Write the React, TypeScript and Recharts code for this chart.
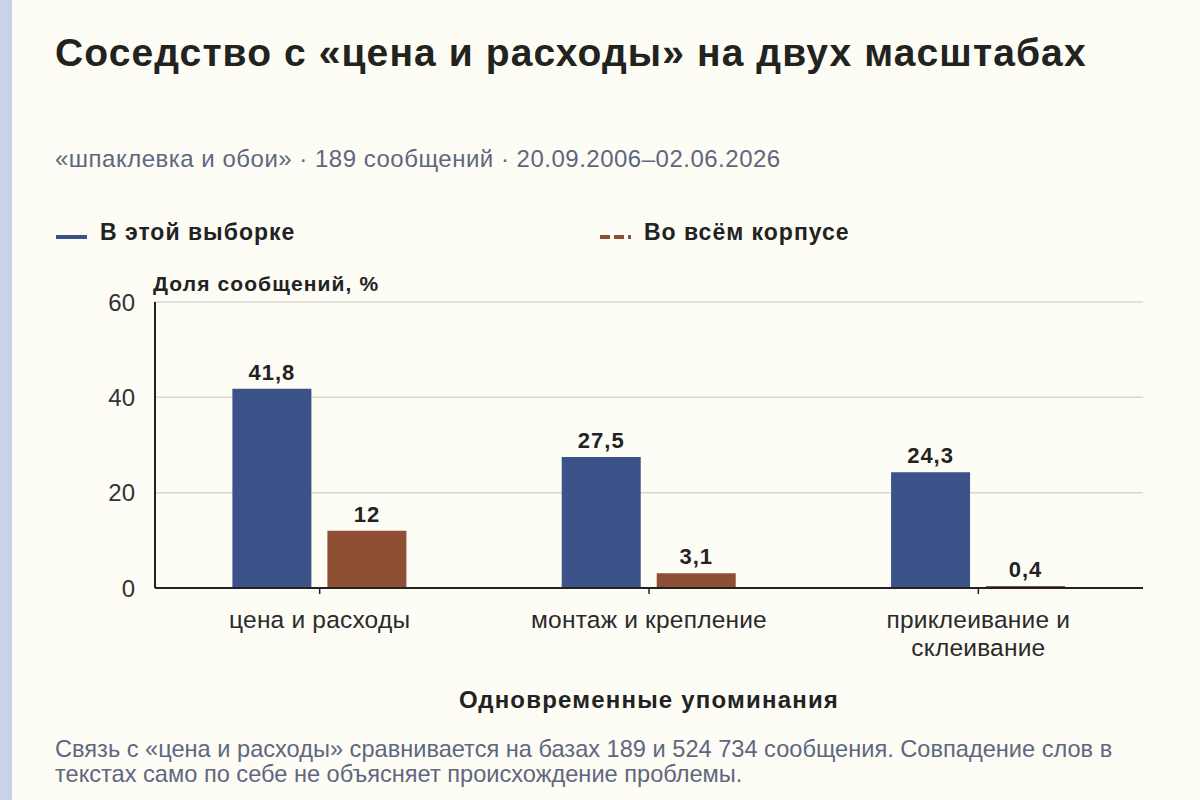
import React from 'react';
import { BarChart, Bar, XAxis, YAxis, CartesianGrid, LabelList } from 'recharts';

const categories = ['цена и расходы', 'монтаж и крепление', 'приклеивание и\nсклеивание'];
const sampleShare = [41.8, 27.5, 24.3];
const corpusShare = [12, 3.1, 0.4];
const yTicks = [0, 20, 40, 60];

const BLUE = '#3B5388';
const BROWN = '#8F4F35';
const MUTED = '#5F6780';
const FONT = '"Liberation Sans", Arial, Helvetica, sans-serif';

const data = categories.map((name, i) => ({ name, sample: sampleShare[i], corpus: corpusShare[i] }));

const fmt = (v: number) => String(v).replace('.', ',');

// wrapped category labels (explicit line breaks)
function CategoryTick(props: any) {
  const { x, y, payload } = props;
  const lines = String(payload.value).split('\n');
  return (
    <text x={x} y={y + 32} textAnchor="middle" fill="#2a2a2a" fontSize={24.5} letterSpacing={0.2} fontFamily={FONT}>
      {lines.map((l, i) => (
        <tspan key={i} x={x} dy={i === 0 ? 0 : 28}>{l}</tspan>
      ))}
    </text>
  );
}

function LegendItem({ left, color, dashed, label }: { left: number; color: string; dashed?: boolean; label: string }) {
  return (
    <>
      <svg width={32} height={6} style={{ position: 'absolute', left, top: 234 }}>
        <line x1={0} x2={31} y1={3} y2={3} stroke={color} strokeWidth={4} strokeDasharray={dashed ? '10 4' : undefined} />
      </svg>
      <div style={{ position: 'absolute', left: left + 44, top: 219, fontSize: 23, letterSpacing: 1, fontWeight: 700, color: '#222', whiteSpace: 'nowrap' }}>
        {label}
      </div>
    </>
  );
}

export default function App() {
  return (
    <div style={{ position: 'absolute', left: 0, top: 0, width: 1200, height: 800, background: '#FDFCF5', fontFamily: FONT, overflow: 'hidden' }}>
      <div style={{ position: 'absolute', left: 0, top: 0, width: 12, height: 800, background: '#C9D3E8' }} />
      <div style={{ position: 'absolute', left: 55, top: 31, fontSize: 39, letterSpacing: 1.1, fontWeight: 700, color: '#22231f', whiteSpace: 'nowrap' }}>
        Соседство с «цена и расходы» на двух масштабах
      </div>
      <div style={{ position: 'absolute', left: 55, top: 145, fontSize: 24, letterSpacing: 0.5, color: MUTED, whiteSpace: 'nowrap' }}>
        «шпаклевка и обои» · 189 сообщений · 20.09.2006–02.06.2026
      </div>
      <LegendItem left={56} color={BLUE} label="В этой выборке" />
      <LegendItem left={600} color={BROWN} dashed label="Во всём корпусе" />
      <div style={{ position: 'absolute', left: 153, top: 272, fontSize: 21, letterSpacing: 1.1, fontWeight: 700, color: '#222', whiteSpace: 'nowrap' }}>
        Доля сообщений, %
      </div>
      <BarChart
        width={1200}
        height={800}
        data={data}
        margin={{ top: 302, right: 57, bottom: 152, left: 95 }}
        barCategoryGap="23.5%"
        barGap={16}
        style={{ position: 'absolute', left: 0, top: 0 }}
      >
        <CartesianGrid vertical={false} stroke="#D8D8D2" strokeWidth={1.5} />
        <XAxis
          dataKey="name"
          height={60}
          axisLine={{ stroke: '#222', strokeWidth: 2 }}
          tickLine={{ stroke: '#222', strokeWidth: 1.5 }}
          tickSize={6}
          tick={<CategoryTick />}
          interval={0}
        />
        <YAxis
          width={60}
          domain={[0, 60]}
          ticks={yTicks}
          axisLine={{ stroke: '#222', strokeWidth: 2 }}
          tickLine={false}
          tick={{ fill: '#333', fontSize: 24, fontFamily: FONT }}
          tickMargin={14}
        />
        <Bar dataKey="sample" fill={BLUE} isAnimationActive={false}>
          <LabelList dataKey="sample" position="top" offset={9} formatter={(v: any) => fmt(v)} fill="#222" fontSize={22} letterSpacing={1} fontWeight={700} fontFamily={FONT} />
        </Bar>
        <Bar dataKey="corpus" fill={BROWN} isAnimationActive={false}>
          <LabelList dataKey="corpus" position="top" offset={9} formatter={(v: any) => fmt(v)} fill="#222" fontSize={22} letterSpacing={1} fontWeight={700} fontFamily={FONT} />
        </Bar>
      </BarChart>
      <div style={{ position: 'absolute', left: 0, width: 1298, top: 686, textAlign: 'center', fontSize: 24, letterSpacing: 1.2, fontWeight: 700, color: '#222', whiteSpace: 'nowrap' }}>
        Одновременные упоминания
      </div>
      <div style={{ position: 'absolute', left: 55, top: 737, width: 1120, fontSize: 23.6, lineHeight: '24.5px', color: MUTED, whiteSpace: 'nowrap' }}>
        Связь с «цена и расходы» сравнивается на базах 189 и 524 734 сообщения. Совпадение слов в
        <br />
        текстах само по себе не объясняет происхождение проблемы.
      </div>
    </div>
  );
}
